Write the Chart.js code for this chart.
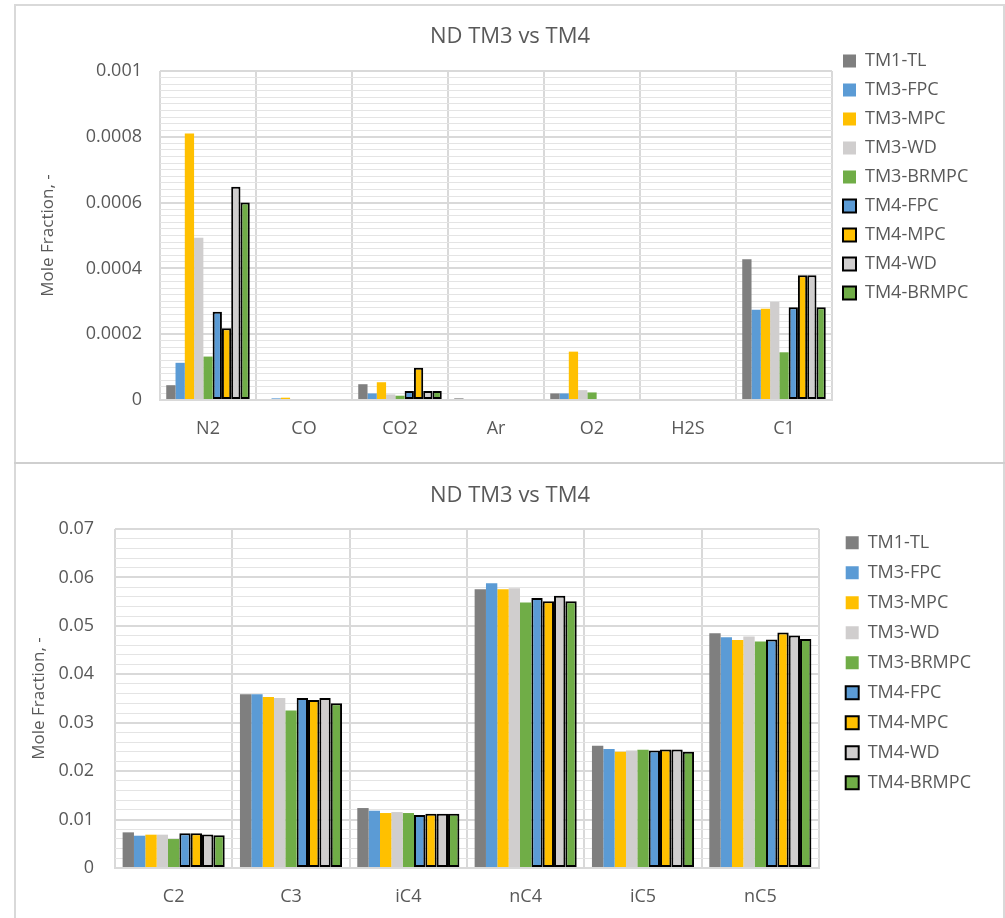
<!DOCTYPE html>
<html>
<head>
<meta charset="utf-8">
<title>ND TM3 vs TM4</title>
<script src="https://cdn.jsdelivr.net/npm/chart.js@4.4.0/dist/chart.umd.min.js"></script>
<style>
  html, body { margin: 0; padding: 0; background: #fff; overflow: hidden; }
  body { width: 1005px; height: 918px; position: relative; }
  .frame { position: absolute; left: 14px; top: 4px; width: 987px; height: 960px;
           border-left: 2px solid #d9d9d9; border-right: 2px solid #d9d9d9; border-top: 2px solid #d9d9d9; }
  .split { position: absolute; left: 14px; top: 462px; width: 991px; height: 2px; background: #cfcfcf; }
  canvas { position: absolute; left: 0; }
  #lightChart { top: 0; }
  #heavyChart { top: 460px; }
</style>
</head>
<body>
<div class="frame"></div>
<div class="split"></div>
<canvas id="lightChart" width="1005" height="460"></canvas>
<canvas id="heavyChart" width="1005" height="470"></canvas>
<script>
// categories
const lightComponents = ['N2', 'CO', 'CO2', 'Ar', 'O2', 'H2S', 'C1'];
const heavyComponents = ['C2', 'C3', 'iC4', 'nC4', 'iC5', 'nC5'];
const seriesNames = ['TM1-TL', 'TM3-FPC', 'TM3-MPC', 'TM3-WD', 'TM3-BRMPC', 'TM4-FPC', 'TM4-MPC', 'TM4-WD', 'TM4-BRMPC'];

// top chart values (mole fraction)
const lightTM1TL    = [0.000045, 0,        0.000048, 0.000005, 0.00002,  0, 0.000428];
const lightTM3FPC   = [0.000113, 0.000005, 0.00002,  0,        0.00002,  0, 0.000274];
const lightTM3MPC   = [0.00081,  0.000007, 0.000054, 0,        0.000147, 0, 0.000277];
const lightTM3WD    = [0.000493, 0,        0.000017, 0,        0.00003,  0, 0.000299];
const lightTM3BRMPC = [0.000132, 0,        0.000013, 0,        0.000023, 0, 0.000145];
const lightTM4FPC   = [0.000268, 0,        0.000027, 0,        0,        0, 0.000282];
const lightTM4MPC   = [0.000218, 0,        0.000098, 0,        0,        0, 0.000379];
const lightTM4WD    = [0.000648, 0,        0.000027, 0,        0,        0, 0.000379];
const lightTM4BRMPC = [0.0006,   0,        0.000027, 0,        0,        0, 0.000282];

// bottom chart values (mole fraction)
const heavyTM1TL    = [0.00736, 0.0359, 0.01238, 0.05755, 0.02524, 0.04848];
const heavyTM3FPC   = [0.00667, 0.0359, 0.01183, 0.0588,  0.02455, 0.04765];
const heavyTM3MPC   = [0.00688, 0.0353, 0.01135, 0.05755, 0.024,   0.0471];
const heavyTM3WD    = [0.00688, 0.0351, 0.01155, 0.05776, 0.02427, 0.04779];
const heavyTM3BRMPC = [0.00598, 0.0325, 0.01135, 0.0548,  0.0244,  0.04676];
const heavyTM4FPC   = [0.00715, 0.0351, 0.01093, 0.05577, 0.02427, 0.04717];
const heavyTM4MPC   = [0.00715, 0.0347, 0.0112,  0.0551,  0.02448, 0.04862];
const heavyTM4WD    = [0.00694, 0.0351, 0.0112,  0.0562,  0.02448, 0.048];
const heavyTM4BRMPC = [0.00674, 0.034,  0.0112,  0.0551,  0.024,   0.04731];

// axis ticks
const lightAxis = { max: 0.001, major: 0.0002, minor: 0.00002 };
const heavyAxis = { max: 0.07, major: 0.01, minor: 0.002 };

const fills = ['#7f7f7f', '#5b9bd5', '#ffc000', '#d0cece', '#70ad47', '#5b9bd5', '#ffc000', '#d0cece', '#70ad47'];
const textGrey = '#595959';

Chart.defaults.font.family = "'Open Sans', sans-serif";
Chart.defaults.color = textGrey;

function makeDatasets(rows) {
  return rows.map((row, i) => ({
    label: seriesNames[i],
    data: row,
    backgroundColor: fills[i],
    borderColor: '#000000',
    borderWidth: i >= 5 ? 2 : 0,
    borderSkipped: false,
    categoryPercentage: 0.87,
    barPercentage: 1.0
  }));
}

// fixes the legend width, then moves it to where the reference has it
function legendSpot(width, x, y) {
  return {
    id: 'legendSpot',
    beforeInit(chart) {
      const fit = chart.legend.fit;
      chart.legend.fit = function () {
        fit.bind(chart.legend)();
        this.width = width;
      };
    },
    afterLayout(chart) {
      const lg = chart.legend;
      lg.left = x;
      lg.right = x + width;
      lg.top = y;
    }
  };
}

function isMajor(v, step) {
  const r = v / step;
  return Math.abs(r - Math.round(r)) < 1e-6;
}

function makeChart(id, labels, rows, axis, lay) {
  const ctx = document.getElementById(id).getContext('2d');
  return new Chart(ctx, {
    type: 'bar',
    data: { labels: labels, datasets: makeDatasets(rows) },
    options: {
      responsive: false,
      animation: false,
      layout: { padding: { left: 15, right: 0, top: 20, bottom: lay.padBottom } },
      plugins: {
        title: {
          display: true,
          text: 'ND TM3 vs TM4',
          color: textGrey,
          font: { size: 22, weight: 'normal' },
          padding: { top: lay.titleTop, bottom: lay.titleBottom }
        },
        legend: {
          position: 'right',
          align: 'start',
          labels: {
            boxWidth: 13,
            boxHeight: 13,
            padding: lay.legendPad,
            color: textGrey,
            font: { size: 18 }
          }
        },
        tooltip: { enabled: false }
      },
      scales: {
        x: {
          grid: { offset: true, color: '#d9d9d9', lineWidth: 2, drawTicks: false },
          border: { display: true, color: '#d9d9d9', width: 2 },
          ticks: { font: { size: 18 }, color: textGrey, padding: lay.xPad }
        },
        y: {
          min: 0,
          max: axis.max,
          afterFit(scale) { scale.width = lay.yWidth; },
          border: { display: false },
          grid: {
            drawTicks: false,
            color: c => isMajor(c.tick.value, axis.major) ? '#d9d9d9' : '#e4e4e4',
            lineWidth: c => isMajor(c.tick.value, axis.major) ? 2 : 1
          },
          ticks: {
            stepSize: axis.minor,
            autoSkip: false,
            padding: lay.yPad,
            font: { size: 18 },
            color: textGrey,
            callback: v => isMajor(v, axis.major) ? parseFloat(v.toFixed(6)).toString() : ''
          },
          title: {
            display: true,
            text: 'Mole Fraction, -',
            color: textGrey,
            font: { size: 17 },
            padding: { top: lay.yTitleTop, bottom: 0 }
          }
        }
      }
    },
    plugins: [legendSpot(lay.legendWidth, lay.legendX, lay.legendY)]
  });
}

const lightChart = makeChart('lightChart', lightComponents,
  [lightTM1TL, lightTM3FPC, lightTM3MPC, lightTM3WD, lightTM3BRMPC, lightTM4FPC, lightTM4MPC, lightTM4WD, lightTM4BRMPC],
  lightAxis,
  { padBottom: 2.4, titleTop: 4, titleBottom: 20.6, legendPad: 11, xPad: 18, yPad: 18, yWidth: 145, yTitleTop: 22.8,
    legendWidth: 173, legendX: 832, legendY: 41 });

const heavyChart = makeChart('heavyChart', heavyComponents,
  [heavyTM1TL, heavyTM3FPC, heavyTM3MPC, heavyTM3WD, heavyTM3BRMPC, heavyTM4FPC, heavyTM4MPC, heavyTM4WD, heavyTM4BRMPC],
  heavyAxis,
  { padBottom: 4, titleTop: 2.6, titleBottom: 20, legendPad: 12, xPad: 18.2, yPad: 21, yWidth: 100, yTitleTop: 14,
    legendWidth: 186, legendX: 833.7, legendY: 61.7 });
</script>
</body>
</html>
